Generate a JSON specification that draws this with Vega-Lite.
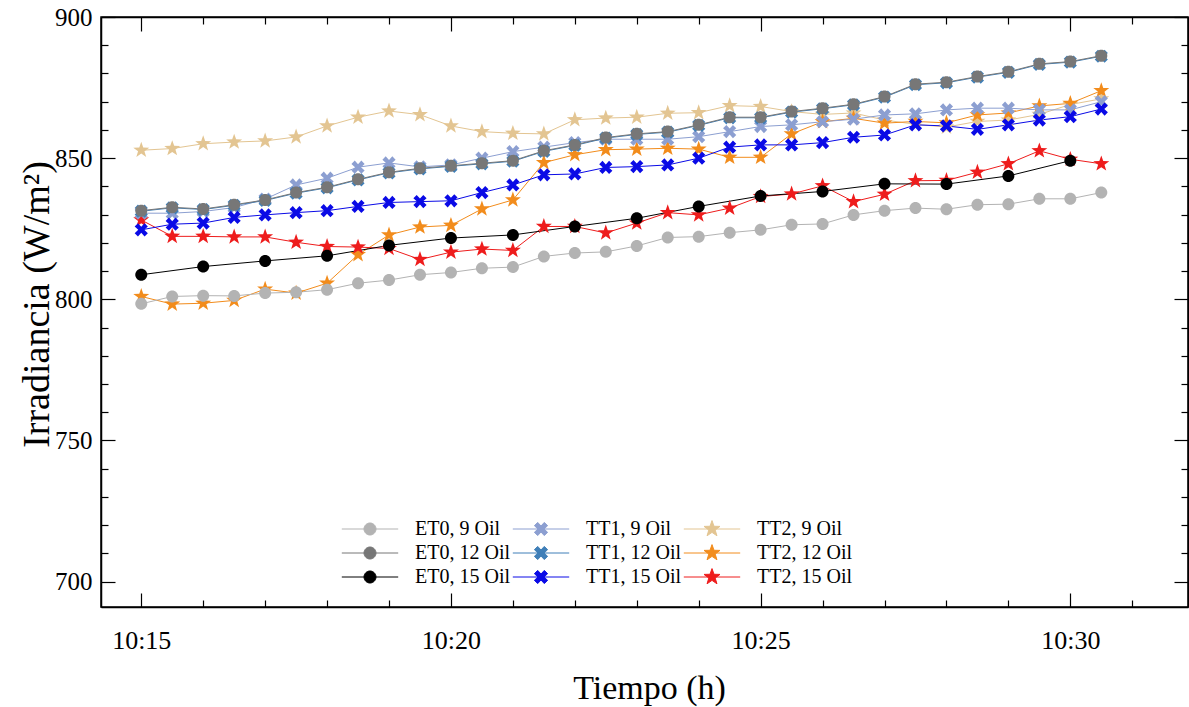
{
  "$schema": "https://vega.github.io/schema/vega-lite/v6.json",
  "width": 1087,
  "height": 590,
  "autosize": {"type": "none"},
  "padding": {"left": 101, "top": 17, "right": 1, "bottom": 100},
  "background": "white",
  "config": {
    "font": "Liberation Serif",
    "view": {"stroke": "black", "strokeWidth": 1.5},
    "axis": {"domainColor": "black", "domainWidth": 1.5, "tickColor": "black", "tickWidth": 1.2, "labelColor": "black", "titleColor": "black", "labelFont": "Liberation Serif", "titleFont": "Liberation Serif", "titleFontWeight": "normal", "grid": false, "labelFlush": false, "labelOverlap": false}
  },
  "data": {
    "format": {"parse": {"time": "date:'%H:%M:%S'"}},
    "values": [
      {"time":"10:15:00","series":"TT2, 9 Oil","value":852.8},{"time":"10:15:30","series":"TT2, 9 Oil","value":853.4},{"time":"10:16:00","series":"TT2, 9 Oil","value":855.1},{"time":"10:16:30","series":"TT2, 9 Oil","value":855.7},{"time":"10:17:00","series":"TT2, 9 Oil","value":856.1},{"time":"10:17:30","series":"TT2, 9 Oil","value":857.5},{"time":"10:18:00","series":"TT2, 9 Oil","value":861.4},{"time":"10:18:30","series":"TT2, 9 Oil","value":864.5},{"time":"10:19:00","series":"TT2, 9 Oil","value":866.7},{"time":"10:19:30","series":"TT2, 9 Oil","value":865.4},{"time":"10:20:00","series":"TT2, 9 Oil","value":861.4},{"time":"10:20:30","series":"TT2, 9 Oil","value":859.4},{"time":"10:21:00","series":"TT2, 9 Oil","value":858.8},{"time":"10:21:30","series":"TT2, 9 Oil","value":858.6},{"time":"10:22:00","series":"TT2, 9 Oil","value":863.6},{"time":"10:22:30","series":"TT2, 9 Oil","value":864.2},{"time":"10:23:00","series":"TT2, 9 Oil","value":864.5},{"time":"10:23:30","series":"TT2, 9 Oil","value":865.9},{"time":"10:24:00","series":"TT2, 9 Oil","value":866.1},{"time":"10:24:30","series":"TT2, 9 Oil","value":868.6},{"time":"10:25:00","series":"TT2, 9 Oil","value":868.3},{"time":"10:25:30","series":"TT2, 9 Oil","value":866.5},{"time":"10:26:00","series":"TT2, 9 Oil","value":865.5},{"time":"10:26:30","series":"TT2, 9 Oil","value":866.0},{"time":"10:27:00","series":"TT2, 9 Oil","value":863.5},{"time":"10:27:30","series":"TT2, 9 Oil","value":862.0},{"time":"10:28:00","series":"TT2, 9 Oil","value":861.0},{"time":"10:28:30","series":"TT2, 9 Oil","value":863.0},{"time":"10:29:00","series":"TT2, 9 Oil","value":863.5},{"time":"10:29:30","series":"TT2, 9 Oil","value":865.5},{"time":"10:30:00","series":"TT2, 9 Oil","value":869.0},{"time":"10:30:30","series":"TT2, 9 Oil","value":871.0},
      {"time":"10:15:00","series":"TT2, 12 Oil","value":801.0},{"time":"10:15:30","series":"TT2, 12 Oil","value":798.3},{"time":"10:16:00","series":"TT2, 12 Oil","value":798.6},{"time":"10:16:30","series":"TT2, 12 Oil","value":799.6},{"time":"10:17:00","series":"TT2, 12 Oil","value":803.6},{"time":"10:17:30","series":"TT2, 12 Oil","value":802.2},{"time":"10:18:00","series":"TT2, 12 Oil","value":805.7},{"time":"10:18:30","series":"TT2, 12 Oil","value":815.8},{"time":"10:19:00","series":"TT2, 12 Oil","value":822.8},{"time":"10:19:30","series":"TT2, 12 Oil","value":825.6},{"time":"10:20:00","series":"TT2, 12 Oil","value":826.2},{"time":"10:20:30","series":"TT2, 12 Oil","value":832.0},{"time":"10:21:00","series":"TT2, 12 Oil","value":835.2},{"time":"10:21:30","series":"TT2, 12 Oil","value":848.4},{"time":"10:22:00","series":"TT2, 12 Oil","value":851.2},{"time":"10:22:30","series":"TT2, 12 Oil","value":853.0},{"time":"10:23:00","series":"TT2, 12 Oil","value":853.2},{"time":"10:23:30","series":"TT2, 12 Oil","value":853.5},{"time":"10:24:00","series":"TT2, 12 Oil","value":853.2},{"time":"10:24:30","series":"TT2, 12 Oil","value":850.3},{"time":"10:25:00","series":"TT2, 12 Oil","value":850.3},{"time":"10:25:30","series":"TT2, 12 Oil","value":858.6},{"time":"10:26:00","series":"TT2, 12 Oil","value":862.9},{"time":"10:26:30","series":"TT2, 12 Oil","value":864.1},{"time":"10:27:00","series":"TT2, 12 Oil","value":862.4},{"time":"10:27:30","series":"TT2, 12 Oil","value":863.0},{"time":"10:28:00","series":"TT2, 12 Oil","value":862.5},{"time":"10:28:30","series":"TT2, 12 Oil","value":865.3},{"time":"10:29:00","series":"TT2, 12 Oil","value":866.0},{"time":"10:29:30","series":"TT2, 12 Oil","value":868.5},{"time":"10:30:00","series":"TT2, 12 Oil","value":869.4},{"time":"10:30:30","series":"TT2, 12 Oil","value":873.9},
      {"time":"10:15:00","series":"TT2, 15 Oil","value":828.1},{"time":"10:15:30","series":"TT2, 15 Oil","value":822.3},{"time":"10:16:00","series":"TT2, 15 Oil","value":822.3},{"time":"10:16:30","series":"TT2, 15 Oil","value":822.1},{"time":"10:17:00","series":"TT2, 15 Oil","value":822.1},{"time":"10:17:30","series":"TT2, 15 Oil","value":820.2},{"time":"10:18:00","series":"TT2, 15 Oil","value":818.7},{"time":"10:18:30","series":"TT2, 15 Oil","value":818.5},{"time":"10:19:00","series":"TT2, 15 Oil","value":818.0},{"time":"10:19:30","series":"TT2, 15 Oil","value":814.1},{"time":"10:20:00","series":"TT2, 15 Oil","value":816.7},{"time":"10:20:30","series":"TT2, 15 Oil","value":817.8},{"time":"10:21:00","series":"TT2, 15 Oil","value":817.3},{"time":"10:21:30","series":"TT2, 15 Oil","value":825.8},{"time":"10:22:00","series":"TT2, 15 Oil","value":825.8},{"time":"10:22:30","series":"TT2, 15 Oil","value":823.5},{"time":"10:23:00","series":"TT2, 15 Oil","value":827.0},{"time":"10:23:30","series":"TT2, 15 Oil","value":830.7},{"time":"10:24:00","series":"TT2, 15 Oil","value":829.9},{"time":"10:24:30","series":"TT2, 15 Oil","value":832.3},{"time":"10:25:00","series":"TT2, 15 Oil","value":836.4},{"time":"10:25:30","series":"TT2, 15 Oil","value":837.3},{"time":"10:26:00","series":"TT2, 15 Oil","value":840.2},{"time":"10:26:30","series":"TT2, 15 Oil","value":834.6},{"time":"10:27:00","series":"TT2, 15 Oil","value":837.2},{"time":"10:27:30","series":"TT2, 15 Oil","value":842.0},{"time":"10:28:00","series":"TT2, 15 Oil","value":842.1},{"time":"10:28:30","series":"TT2, 15 Oil","value":845.0},{"time":"10:29:00","series":"TT2, 15 Oil","value":848.0},{"time":"10:29:30","series":"TT2, 15 Oil","value":852.6},{"time":"10:30:00","series":"TT2, 15 Oil","value":849.6},{"time":"10:30:30","series":"TT2, 15 Oil","value":848.0},
      {"time":"10:15:00","series":"TT1, 9 Oil","value":830.5},{"time":"10:15:30","series":"TT1, 9 Oil","value":830.5},{"time":"10:16:00","series":"TT1, 9 Oil","value":831.1},{"time":"10:16:30","series":"TT1, 9 Oil","value":832.5},{"time":"10:17:00","series":"TT1, 9 Oil","value":835.5},{"time":"10:17:30","series":"TT1, 9 Oil","value":840.5},{"time":"10:18:00","series":"TT1, 9 Oil","value":842.9},{"time":"10:18:30","series":"TT1, 9 Oil","value":846.8},{"time":"10:19:00","series":"TT1, 9 Oil","value":848.3},{"time":"10:19:30","series":"TT1, 9 Oil","value":846.9},{"time":"10:20:00","series":"TT1, 9 Oil","value":847.6},{"time":"10:20:30","series":"TT1, 9 Oil","value":850.0},{"time":"10:21:00","series":"TT1, 9 Oil","value":852.3},{"time":"10:21:30","series":"TT1, 9 Oil","value":853.9},{"time":"10:22:00","series":"TT1, 9 Oil","value":855.5},{"time":"10:22:30","series":"TT1, 9 Oil","value":856.7},{"time":"10:23:00","series":"TT1, 9 Oil","value":856.7},{"time":"10:23:30","series":"TT1, 9 Oil","value":856.7},{"time":"10:24:00","series":"TT1, 9 Oil","value":857.6},{"time":"10:24:30","series":"TT1, 9 Oil","value":859.4},{"time":"10:25:00","series":"TT1, 9 Oil","value":861.2},{"time":"10:25:30","series":"TT1, 9 Oil","value":861.8},{"time":"10:26:00","series":"TT1, 9 Oil","value":862.9},{"time":"10:26:30","series":"TT1, 9 Oil","value":863.8},{"time":"10:27:00","series":"TT1, 9 Oil","value":865.3},{"time":"10:27:30","series":"TT1, 9 Oil","value":865.7},{"time":"10:28:00","series":"TT1, 9 Oil","value":867.1},{"time":"10:28:30","series":"TT1, 9 Oil","value":867.7},{"time":"10:29:00","series":"TT1, 9 Oil","value":867.7},{"time":"10:29:30","series":"TT1, 9 Oil","value":867.1},{"time":"10:30:00","series":"TT1, 9 Oil","value":867.1},{"time":"10:30:30","series":"TT1, 9 Oil","value":870.0},
      {"time":"10:15:00","series":"TT1, 12 Oil","value":831.2},{"time":"10:15:30","series":"TT1, 12 Oil","value":832.4},{"time":"10:16:00","series":"TT1, 12 Oil","value":831.8},{"time":"10:16:30","series":"TT1, 12 Oil","value":833.3},{"time":"10:17:00","series":"TT1, 12 Oil","value":835.0},{"time":"10:17:30","series":"TT1, 12 Oil","value":837.6},{"time":"10:18:00","series":"TT1, 12 Oil","value":839.5},{"time":"10:18:30","series":"TT1, 12 Oil","value":842.3},{"time":"10:19:00","series":"TT1, 12 Oil","value":844.8},{"time":"10:19:30","series":"TT1, 12 Oil","value":846.2},{"time":"10:20:00","series":"TT1, 12 Oil","value":847.1},{"time":"10:20:30","series":"TT1, 12 Oil","value":848.0},{"time":"10:21:00","series":"TT1, 12 Oil","value":848.9},{"time":"10:21:30","series":"TT1, 12 Oil","value":852.4},{"time":"10:22:00","series":"TT1, 12 Oil","value":854.5},{"time":"10:22:30","series":"TT1, 12 Oil","value":857.1},{"time":"10:23:00","series":"TT1, 12 Oil","value":858.4},{"time":"10:23:30","series":"TT1, 12 Oil","value":859.2},{"time":"10:24:00","series":"TT1, 12 Oil","value":861.6},{"time":"10:24:30","series":"TT1, 12 Oil","value":864.3},{"time":"10:25:00","series":"TT1, 12 Oil","value":864.3},{"time":"10:25:30","series":"TT1, 12 Oil","value":866.3},{"time":"10:26:00","series":"TT1, 12 Oil","value":867.5},{"time":"10:26:30","series":"TT1, 12 Oil","value":868.9},{"time":"10:27:00","series":"TT1, 12 Oil","value":871.6},{"time":"10:27:30","series":"TT1, 12 Oil","value":876.0},{"time":"10:28:00","series":"TT1, 12 Oil","value":876.7},{"time":"10:28:30","series":"TT1, 12 Oil","value":878.7},{"time":"10:29:00","series":"TT1, 12 Oil","value":880.4},{"time":"10:29:30","series":"TT1, 12 Oil","value":883.2},{"time":"10:30:00","series":"TT1, 12 Oil","value":884.0},{"time":"10:30:30","series":"TT1, 12 Oil","value":886.1},
      {"time":"10:15:00","series":"TT1, 15 Oil","value":824.6},{"time":"10:15:30","series":"TT1, 15 Oil","value":826.6},{"time":"10:16:00","series":"TT1, 15 Oil","value":827.0},{"time":"10:16:30","series":"TT1, 15 Oil","value":829.0},{"time":"10:17:00","series":"TT1, 15 Oil","value":829.9},{"time":"10:17:30","series":"TT1, 15 Oil","value":830.7},{"time":"10:18:00","series":"TT1, 15 Oil","value":831.4},{"time":"10:18:30","series":"TT1, 15 Oil","value":832.9},{"time":"10:19:00","series":"TT1, 15 Oil","value":834.3},{"time":"10:19:30","series":"TT1, 15 Oil","value":834.6},{"time":"10:20:00","series":"TT1, 15 Oil","value":834.9},{"time":"10:20:30","series":"TT1, 15 Oil","value":837.8},{"time":"10:21:00","series":"TT1, 15 Oil","value":840.5},{"time":"10:21:30","series":"TT1, 15 Oil","value":844.1},{"time":"10:22:00","series":"TT1, 15 Oil","value":844.4},{"time":"10:22:30","series":"TT1, 15 Oil","value":846.7},{"time":"10:23:00","series":"TT1, 15 Oil","value":847.0},{"time":"10:23:30","series":"TT1, 15 Oil","value":847.6},{"time":"10:24:00","series":"TT1, 15 Oil","value":850.0},{"time":"10:24:30","series":"TT1, 15 Oil","value":853.9},{"time":"10:25:00","series":"TT1, 15 Oil","value":854.7},{"time":"10:25:30","series":"TT1, 15 Oil","value":854.7},{"time":"10:26:00","series":"TT1, 15 Oil","value":855.5},{"time":"10:26:30","series":"TT1, 15 Oil","value":857.4},{"time":"10:27:00","series":"TT1, 15 Oil","value":858.2},{"time":"10:27:30","series":"TT1, 15 Oil","value":861.8},{"time":"10:28:00","series":"TT1, 15 Oil","value":861.4},{"time":"10:28:30","series":"TT1, 15 Oil","value":860.2},{"time":"10:29:00","series":"TT1, 15 Oil","value":861.8},{"time":"10:29:30","series":"TT1, 15 Oil","value":863.5},{"time":"10:30:00","series":"TT1, 15 Oil","value":864.7},{"time":"10:30:30","series":"TT1, 15 Oil","value":867.4},
      {"time":"10:15:00","series":"ET0, 9 Oil","value":798.4},{"time":"10:15:30","series":"ET0, 9 Oil","value":801.0},{"time":"10:16:00","series":"ET0, 9 Oil","value":801.3},{"time":"10:16:30","series":"ET0, 9 Oil","value":801.2},{"time":"10:17:00","series":"ET0, 9 Oil","value":802.2},{"time":"10:17:30","series":"ET0, 9 Oil","value":802.5},{"time":"10:18:00","series":"ET0, 9 Oil","value":803.4},{"time":"10:18:30","series":"ET0, 9 Oil","value":805.7},{"time":"10:19:00","series":"ET0, 9 Oil","value":806.8},{"time":"10:19:30","series":"ET0, 9 Oil","value":808.7},{"time":"10:20:00","series":"ET0, 9 Oil","value":809.5},{"time":"10:20:30","series":"ET0, 9 Oil","value":811.0},{"time":"10:21:00","series":"ET0, 9 Oil","value":811.4},{"time":"10:21:30","series":"ET0, 9 Oil","value":815.2},{"time":"10:22:00","series":"ET0, 9 Oil","value":816.4},{"time":"10:22:30","series":"ET0, 9 Oil","value":816.8},{"time":"10:23:00","series":"ET0, 9 Oil","value":818.9},{"time":"10:23:30","series":"ET0, 9 Oil","value":821.9},{"time":"10:24:00","series":"ET0, 9 Oil","value":822.2},{"time":"10:24:30","series":"ET0, 9 Oil","value":823.6},{"time":"10:25:00","series":"ET0, 9 Oil","value":824.6},{"time":"10:25:30","series":"ET0, 9 Oil","value":826.4},{"time":"10:26:00","series":"ET0, 9 Oil","value":826.7},{"time":"10:26:30","series":"ET0, 9 Oil","value":829.9},{"time":"10:27:00","series":"ET0, 9 Oil","value":831.4},{"time":"10:27:30","series":"ET0, 9 Oil","value":832.3},{"time":"10:28:00","series":"ET0, 9 Oil","value":831.9},{"time":"10:28:30","series":"ET0, 9 Oil","value":833.5},{"time":"10:29:00","series":"ET0, 9 Oil","value":833.7},{"time":"10:29:30","series":"ET0, 9 Oil","value":835.6},{"time":"10:30:00","series":"ET0, 9 Oil","value":835.6},{"time":"10:30:30","series":"ET0, 9 Oil","value":837.8},
      {"time":"10:15:00","series":"ET0, 12 Oil","value":831.4},{"time":"10:15:30","series":"ET0, 12 Oil","value":832.6},{"time":"10:16:00","series":"ET0, 12 Oil","value":832.0},{"time":"10:16:30","series":"ET0, 12 Oil","value":833.5},{"time":"10:17:00","series":"ET0, 12 Oil","value":835.2},{"time":"10:17:30","series":"ET0, 12 Oil","value":837.8},{"time":"10:18:00","series":"ET0, 12 Oil","value":839.7},{"time":"10:18:30","series":"ET0, 12 Oil","value":842.5},{"time":"10:19:00","series":"ET0, 12 Oil","value":845.0},{"time":"10:19:30","series":"ET0, 12 Oil","value":846.4},{"time":"10:20:00","series":"ET0, 12 Oil","value":847.3},{"time":"10:20:30","series":"ET0, 12 Oil","value":848.2},{"time":"10:21:00","series":"ET0, 12 Oil","value":849.1},{"time":"10:21:30","series":"ET0, 12 Oil","value":852.6},{"time":"10:22:00","series":"ET0, 12 Oil","value":854.7},{"time":"10:22:30","series":"ET0, 12 Oil","value":857.3},{"time":"10:23:00","series":"ET0, 12 Oil","value":858.6},{"time":"10:23:30","series":"ET0, 12 Oil","value":859.4},{"time":"10:24:00","series":"ET0, 12 Oil","value":861.8},{"time":"10:24:30","series":"ET0, 12 Oil","value":864.5},{"time":"10:25:00","series":"ET0, 12 Oil","value":864.5},{"time":"10:25:30","series":"ET0, 12 Oil","value":866.5},{"time":"10:26:00","series":"ET0, 12 Oil","value":867.7},{"time":"10:26:30","series":"ET0, 12 Oil","value":869.1},{"time":"10:27:00","series":"ET0, 12 Oil","value":871.8},{"time":"10:27:30","series":"ET0, 12 Oil","value":876.2},{"time":"10:28:00","series":"ET0, 12 Oil","value":876.9},{"time":"10:28:30","series":"ET0, 12 Oil","value":878.9},{"time":"10:29:00","series":"ET0, 12 Oil","value":880.6},{"time":"10:29:30","series":"ET0, 12 Oil","value":883.4},{"time":"10:30:00","series":"ET0, 12 Oil","value":884.2},{"time":"10:30:30","series":"ET0, 12 Oil","value":886.3},
      {"time":"10:15:00","series":"ET0, 15 Oil","value":808.7},{"time":"10:16:00","series":"ET0, 15 Oil","value":811.6},{"time":"10:17:00","series":"ET0, 15 Oil","value":813.6},{"time":"10:18:00","series":"ET0, 15 Oil","value":815.4},{"time":"10:19:00","series":"ET0, 15 Oil","value":819.1},{"time":"10:20:00","series":"ET0, 15 Oil","value":821.7},{"time":"10:21:00","series":"ET0, 15 Oil","value":822.8},{"time":"10:22:00","series":"ET0, 15 Oil","value":825.8},{"time":"10:23:00","series":"ET0, 15 Oil","value":828.7},{"time":"10:24:00","series":"ET0, 15 Oil","value":832.9},{"time":"10:25:00","series":"ET0, 15 Oil","value":836.6},{"time":"10:26:00","series":"ET0, 15 Oil","value":838.2},{"time":"10:27:00","series":"ET0, 15 Oil","value":840.9},{"time":"10:28:00","series":"ET0, 15 Oil","value":840.8},{"time":"10:29:00","series":"ET0, 15 Oil","value":843.7},{"time":"10:30:00","series":"ET0, 15 Oil","value":849.1}
    ]
  },
  "layer": [
    {
      "mark": {"type": "line", "strokeWidth": 1},
      "encoding": {
        "x": {
          "field": "time", "type": "temporal",
          "scale": {"domain": [{"year": 1900, "month": 1, "date": 1, "hours": 10, "minutes": 14, "seconds": 21}, {"year": 1900, "month": 1, "date": 1, "hours": 10, "minutes": 31, "seconds": 54}]},
          "axis": {
            "orient": "bottom",
            "values": [
              {"year": 1900, "month": 1, "date": 1, "hours": 10, "minutes": 15},{"year": 1900, "month": 1, "date": 1, "hours": 10, "minutes": 16},{"year": 1900, "month": 1, "date": 1, "hours": 10, "minutes": 17},{"year": 1900, "month": 1, "date": 1, "hours": 10, "minutes": 18},{"year": 1900, "month": 1, "date": 1, "hours": 10, "minutes": 19},{"year": 1900, "month": 1, "date": 1, "hours": 10, "minutes": 20},{"year": 1900, "month": 1, "date": 1, "hours": 10, "minutes": 21},{"year": 1900, "month": 1, "date": 1, "hours": 10, "minutes": 22},{"year": 1900, "month": 1, "date": 1, "hours": 10, "minutes": 23},{"year": 1900, "month": 1, "date": 1, "hours": 10, "minutes": 24},{"year": 1900, "month": 1, "date": 1, "hours": 10, "minutes": 25},{"year": 1900, "month": 1, "date": 1, "hours": 10, "minutes": 26},{"year": 1900, "month": 1, "date": 1, "hours": 10, "minutes": 27},{"year": 1900, "month": 1, "date": 1, "hours": 10, "minutes": 28},{"year": 1900, "month": 1, "date": 1, "hours": 10, "minutes": 29},{"year": 1900, "month": 1, "date": 1, "hours": 10, "minutes": 30},{"year": 1900, "month": 1, "date": 1, "hours": 10, "minutes": 31}
            ],
            "labelExpr": "minutes(datum.value) % 5 === 0 ? timeFormat(datum.value, '%H:%M') : ''",
            "tickSize": {"condition": {"test": "minutes(datum.value) % 5 === 0", "value": -14}, "value": -7},
            "labelPadding": 34,
            "labelFontSize": 26,
            "title": "Tiempo (h)",
            "titleFontSize": 34,
            "titleX": 548,
            "titleY": 81,
            "titleBaseline": "middle",
            "titleAlign": "center"
          }
        },
        "y": {
          "field": "value", "type": "quantitative",
          "scale": {"domain": [691, 900], "nice": false, "zero": false},
          "axis": {
            "orient": "left",
            "values": [700,710,720,730,740,750,760,770,780,790,800,810,820,830,840,850,860,870,880,890,900],
            "labelExpr": "datum.value % 50 === 0 ? datum.label : ''",
            "tickSize": {"condition": {"test": "datum.value % 50 === 0", "value": -14}, "value": -7},
            "labelPadding": 23,
            "labelFontSize": 25,
            "title": "Irradiancia (W/m²)",
            "titleFontSize": 38,
            "titleX": -64,
            "titleY": 287,
            "titleAngle": 270,
            "titleBaseline": "middle",
            "titleAlign": "center"
          }
        },
        "stroke": {
          "field": "series", "type": "nominal",
          "scale": {
            "domain": ["ET0, 9 Oil", "TT1, 9 Oil", "TT2, 9 Oil", "ET0, 12 Oil", "TT1, 12 Oil", "TT2, 12 Oil", "ET0, 15 Oil", "TT1, 15 Oil", "TT2, 15 Oil"],
            "range": ["#b3b3b3", "#8c9fd1", "#e3c592", "#777777", "#3f7fb8", "#f28c1c", "#000000", "#0a0ae6", "#ee1c1c"]
          },
          "legend": null
        }
      }
    },
    {
      "mark": {"type": "point", "filled": true, "size": 144, "opacity": 1},
      "encoding": {
        "x": {
          "field": "time", "type": "temporal",
          "axis": {
            "orient": "top",
            "values": [
              {"year": 1900, "month": 1, "date": 1, "hours": 10, "minutes": 15},{"year": 1900, "month": 1, "date": 1, "hours": 10, "minutes": 16},{"year": 1900, "month": 1, "date": 1, "hours": 10, "minutes": 17},{"year": 1900, "month": 1, "date": 1, "hours": 10, "minutes": 18},{"year": 1900, "month": 1, "date": 1, "hours": 10, "minutes": 19},{"year": 1900, "month": 1, "date": 1, "hours": 10, "minutes": 20},{"year": 1900, "month": 1, "date": 1, "hours": 10, "minutes": 21},{"year": 1900, "month": 1, "date": 1, "hours": 10, "minutes": 22},{"year": 1900, "month": 1, "date": 1, "hours": 10, "minutes": 23},{"year": 1900, "month": 1, "date": 1, "hours": 10, "minutes": 24},{"year": 1900, "month": 1, "date": 1, "hours": 10, "minutes": 25},{"year": 1900, "month": 1, "date": 1, "hours": 10, "minutes": 26},{"year": 1900, "month": 1, "date": 1, "hours": 10, "minutes": 27},{"year": 1900, "month": 1, "date": 1, "hours": 10, "minutes": 28},{"year": 1900, "month": 1, "date": 1, "hours": 10, "minutes": 29},{"year": 1900, "month": 1, "date": 1, "hours": 10, "minutes": 30},{"year": 1900, "month": 1, "date": 1, "hours": 10, "minutes": 31}
            ],
            "tickSize": {"condition": {"test": "minutes(datum.value) % 5 === 0", "value": -14}, "value": -7},
            "labels": false,
            "title": null
          }
        },
        "y": {
          "field": "value", "type": "quantitative",
          "axis": {
            "orient": "right",
            "values": [700,710,720,730,740,750,760,770,780,790,800,810,820,830,840,850,860,870,880,890,900],
            "tickSize": {"condition": {"test": "datum.value % 50 === 0", "value": -14}, "value": -7},
            "labels": false,
            "title": null
          }
        },
        "fill": {
          "field": "series", "type": "nominal",
          "scale": {
            "domain": ["ET0, 9 Oil", "ET0, 12 Oil", "ET0, 15 Oil", "TT1, 9 Oil", "TT1, 12 Oil", "TT1, 15 Oil", "TT2, 9 Oil", "TT2, 12 Oil", "TT2, 15 Oil"],
            "range": ["#b3b3b3", "#777777", "#000000", "#8c9fd1", "#3f7fb8", "#0a0ae6", "#e3c592", "#f28c1c", "#ee1c1c"]
          },
          "legend": {
            "title": null,
            "orient": "none",
            "legendX": 259,
            "legendY": 502,
            "columns": 3,
            "labelFont": "Liberation Serif",
            "labelFontSize": 20,
            "labelColor": "black",
            "symbolSize": 144,
            "symbolType": {"expr": "scale('shape', datum.value) + ' M-4.7,0L4.7,0'"},
            "symbolStrokeColor": {"expr": "scale('fill', datum.value)"},
            "symbolStrokeWidth": 1,
            "labelOffset": 35,
            "columnPadding": 0,
            "rowPadding": 3
          }
        },
        "shape": {
          "field": "series", "type": "nominal",
          "legend": null,
          "scale": {
            "domain": ["TT2, 15 Oil", "TT2, 12 Oil", "TT2, 9 Oil", "TT1, 15 Oil", "TT1, 12 Oil", "TT1, 9 Oil", "ET0, 15 Oil", "ET0, 12 Oil", "ET0, 9 Oil"],
            "range": [
              "M0,-1.4L0.329,-0.454L1.331,-0.433L0.532,0.174L0.823,1.133L0,0.56L-0.823,1.133L-0.532,0.174L-1.331,-0.433L-0.329,-0.454Z",
              "M0,-1.4L0.329,-0.454L1.331,-0.433L0.532,0.174L0.823,1.133L0,0.56L-0.823,1.133L-0.532,0.174L-1.331,-0.433L-0.329,-0.454Z",
              "M0,-1.4L0.329,-0.454L1.331,-0.433L0.532,0.174L0.823,1.133L0,0.56L-0.823,1.133L-0.532,0.174L-1.331,-0.433L-0.329,-0.454Z",
              "M-1.1,-0.55L-0.55,-1.1L0,-0.5L0.55,-1.1L1.1,-0.55L0.5,0L1.1,0.55L0.55,1.1L0,0.5L-0.55,1.1L-1.1,0.55L-0.5,0Z",
              "M-1.1,-0.55L-0.55,-1.1L0,-0.5L0.55,-1.1L1.1,-0.55L0.5,0L1.1,0.55L0.55,1.1L0,0.5L-0.55,1.1L-1.1,0.55L-0.5,0Z",
              "M-1.1,-0.55L-0.55,-1.1L0,-0.5L0.55,-1.1L1.1,-0.55L0.5,0L1.1,0.55L0.55,1.1L0,0.5L-0.55,1.1L-1.1,0.55L-0.5,0Z",
              "M-1,0A1,1 0 1,0 1,0A1,1 0 1,0 -1,0Z",
              "M-1,0A1,1 0 1,0 1,0A1,1 0 1,0 -1,0Z",
              "M-1,0A1,1 0 1,0 1,0A1,1 0 1,0 -1,0Z"
            ]
          }
        }
      }
    }
  ],
  "resolve": {"axis": {"x": "independent", "y": "independent"}}
}
